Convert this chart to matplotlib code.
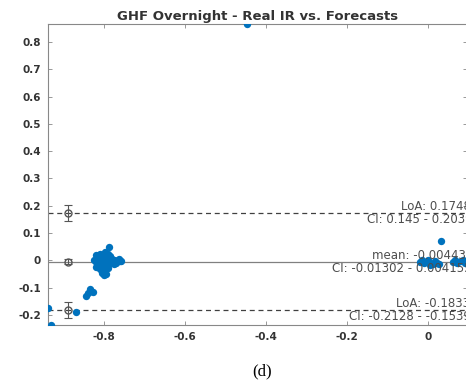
import matplotlib
matplotlib.use('Agg')
import matplotlib.pyplot as plt

# puntos: diferencia vs media
x_pts = [-0.82, -0.81, -0.80, -0.79, -0.785, -0.815, -0.805, -0.795, -0.78, -0.775,
         -0.77, -0.765, -0.76, -0.825, -0.82, -0.81, -0.80, -0.79, -0.785, -0.775,
         -0.815, -0.805, -0.795, -0.81, -0.80, -0.79, -0.805, -0.795, -0.80, -0.82,
         -0.788, -0.812, -0.798, -0.77, -0.783, -0.757, -0.762,
         -0.835, -0.84, -0.828, -0.845, -0.87, -0.938, -0.93, -0.447,
         0.03, -0.02, -0.01, 0.0, 0.01, 0.02, 0.0, -0.015, 0.015, 0.06,
         0.07, 0.08, 0.09, 0.065, 0.085, 0.025, 0.005]
y_pts = [0.02, 0.025, 0.02, 0.022, 0.015, 0.01, 0.008, 0.01, 0.005, 0.0,
         -0.002, 0.0, -0.003, 0.0, -0.005, -0.002, -0.004, -0.006, -0.01, -0.012,
         -0.015, -0.02, -0.018, -0.03, -0.035, -0.028, -0.045, -0.05, -0.055, -0.025,
         0.05, 0.018, 0.03, -0.008, 0.003, -0.004, 0.004,
         -0.105, -0.12, -0.115, -0.13, -0.19, -0.175, -0.237, 0.866,
         0.072, -0.005, -0.01, -0.005, -0.012, -0.008, 0.0, 0.002, -0.002, -0.005,
         -0.01, -0.003, -0.008, 0.0, 0.002, -0.015, -0.018]

# limites de acuerdo y sus intervalos de confianza
mean_diff = -0.004434
mean_ci = [-0.01302, 0.004155]
loa_up = 0.1748
loa_up_ci = [0.145, 0.2039]
loa_low = -0.1833
loa_low_ci = [-0.2128, -0.1539]
err_x = -0.888

plt.rcParams['font.family'] = 'DejaVu Sans'

fig = plt.figure(figsize=(4.66, 3.83), dpi=100)
ax = fig.add_axes([0.103, 0.1514, 0.900, 0.786])

blue = '#0072BD'
gray = '#4d4d4d'

ax.axhline(mean_diff, color='#808080', lw=0.9)
ax.axhline(loa_up, color='#404040', lw=0.9, ls=(0, (4, 3)))
ax.axhline(loa_low, color='#404040', lw=0.9, ls=(0, (4, 3)))

ax.scatter(x_pts, y_pts, s=28, color=blue, zorder=3, linewidths=0)

# barras de error de los intervalos
for val, ci in [(loa_up, loa_up_ci), (mean_diff, mean_ci), (loa_low, loa_low_ci)]:
    ax.errorbar(err_x, val, yerr=[[val - ci[0]], [ci[1] - val]], fmt='o',
                mfc='none', mec='#555555', ms=5, ecolor='#555555', elinewidth=0.8,
                capsize=3, capthick=0.8, zorder=4)

ax.set_xlim(-0.938, 0.096)
ax.set_ylim(-0.237, 0.866)
ax.set_xticks([-0.8, -0.6, -0.4, -0.2, 0])
ax.set_xticklabels(['-0.8', '-0.6', '-0.4', '-0.2', '0'])
ax.set_yticks([-0.2, -0.1, 0, 0.1, 0.2, 0.3, 0.4, 0.5, 0.6, 0.7, 0.8])
ax.set_yticklabels(['-0.2', '-0.1', '0', '0.1', '0.2', '0.3', '0.4', '0.5', '0.6', '0.7', '0.8'])
ax.tick_params(direction='in', top=True, right=True, length=3, width=0.6,
               labelsize=7.5, colors='#888888', labelcolor='#333333', pad=5)
for lbl in ax.get_xticklabels() + ax.get_yticklabels():
    lbl.set_fontweight('bold')
for sp in ax.spines.values():
    sp.set_color('#888888')
    sp.set_linewidth(0.8)

tf = dict(fontsize=8.5, color=gray, transform=ax.get_yaxis_transform())
ax.text(0.842, loa_up, 'LoA: 0.1748', va='bottom', ha='left', **tf)
ax.text(0.760, loa_up, 'CI: 0.145 - 0.2039', va='top', ha='left', **tf)
ax.text(0.773, mean_diff, 'mean: -0.004434', va='bottom', ha='left', **tf)
ax.text(0.678, mean_diff, 'CI: -0.01302 - 0.004155', va='top', ha='left', **tf)
ax.text(0.830, loa_low, 'LoA: -0.1833', va='bottom', ha='left', **tf)
ax.text(0.718, loa_low, 'CI: -0.2128 - -0.1539', va='top', ha='left', **tf)

ax.set_title('GHF Overnight - Real IR vs. Forecasts', fontsize=9.5, fontweight='bold',
             color='#333333', pad=3)

fig.text(0.562, 0.031, '(d)', fontsize=12, family='Liberation Serif', ha='center', va='center')

fig.savefig('out.png', dpi=100)
